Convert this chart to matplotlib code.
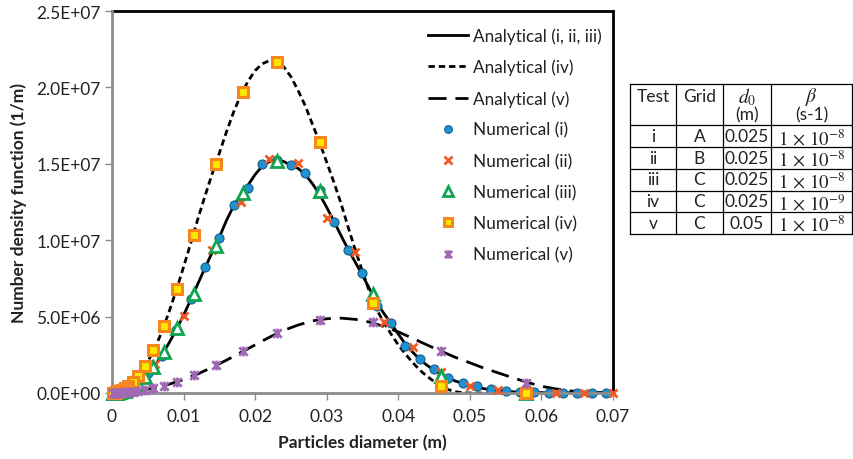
import numpy as np
import matplotlib
matplotlib.use("Agg")
import matplotlib.pyplot as plt
from matplotlib.path import Path
from matplotlib.ticker import FuncFormatter, MultipleLocator

plt.rcParams['font.family'] = ['Lato', 'DejaVu Sans']
plt.rcParams['mathtext.fontset'] = 'stix'

# ---- analytical solutions (number density vs diameter) ----
d_an = [0.000, 0.001, 0.002, 0.003, 0.004, 0.005, 0.006, 0.007, 0.008, 0.009,
        0.010, 0.011, 0.012, 0.013, 0.014, 0.015, 0.016, 0.017, 0.018, 0.019,
        0.020, 0.021, 0.022, 0.023, 0.024, 0.025, 0.026, 0.027, 0.028, 0.029,
        0.030, 0.031, 0.032, 0.033, 0.034, 0.035, 0.036, 0.037, 0.038, 0.039,
        0.040, 0.041, 0.042, 0.043, 0.044, 0.045, 0.046, 0.047, 0.048, 0.049,
        0.050, 0.051, 0.052, 0.053, 0.054, 0.055, 0.056, 0.057, 0.058, 0.059,
        0.060, 0.061, 0.062, 0.063, 0.064, 0.065, 0.066, 0.067, 0.068, 0.069,
        0.070]
an_123 = [0, 3e4, 1.3e5, 3.3e5, 6.8e5, 1.2e6, 1.8e6, 2.5e6, 3.3e6, 4.15e6,
          5.1e6, 6.1e6, 7.15e6, 8.2e6, 9.2e6, 1.02e7, 1.13e7, 1.225e7, 1.3e7, 1.36e7,
          1.43e7, 1.485e7, 1.515e7, 1.525e7, 1.515e7, 1.49e7, 1.47e7, 1.43e7, 1.37e7, 1.30e7,
          1.215e7, 1.125e7, 1.03e7, 9.4e6, 8.55e6, 7.7e6, 6.8e6, 5.9e6, 5.2e6, 4.55e6,
          3.85e6, 3.2e6, 2.68e6, 2.2e6, 1.82e6, 1.5e6, 1.22e6, 9.8e5, 7.8e5, 6.2e5,
          4.8e5, 3.7e5, 2.8e5, 2.1e5, 1.55e5, 1.1e5, 8e4, 5.5e4, 3.8e4, 2.6e4,
          1.7e4, 1.1e4, 7e3, 4e3, 2.5e3, 1.5e3, 1e3, 5e2, 2e2, 1e2,
          0]
an_4 = [0, 1.5e5, 4.5e5, 8.5e5, 1.35e6, 2.05e6, 2.95e6, 4.05e6, 5.35e6, 6.75e6,
        8.25e6, 9.8e6, 1.14e7, 1.29e7, 1.435e7, 1.57e7, 1.71e7, 1.84e7, 1.95e7, 2.04e7,
        2.11e7, 2.155e7, 2.175e7, 2.17e7, 2.135e7, 2.07e7, 1.98e7, 1.88e7, 1.76e7, 1.64e7,
        1.51e7, 1.38e7, 1.24e7, 1.085e7, 9.35e6, 7.95e6, 6.6e6, 5.45e6, 4.6e6, 3.85e6,
        3.15e6, 2.55e6, 2.0e6, 1.5e6, 1.1e6, 7.5e5, 4.5e5, 2.2e5, 8e4, 2e4,
        0, 0, 0, 0, 0, 0, 0, 0, 0, 0,
        0, 0, 0, 0, 0, 0, 0, 0, 0, 0,
        0]
d_an5 = [0.000, 0.002, 0.004, 0.006, 0.008, 0.010, 0.012, 0.014, 0.016, 0.018,
         0.020, 0.022, 0.024, 0.026, 0.028, 0.030, 0.032, 0.034, 0.036, 0.038,
         0.040, 0.042, 0.044, 0.046, 0.048, 0.050, 0.052, 0.054, 0.056, 0.058,
         0.060, 0.062, 0.064, 0.066, 0.068, 0.070]
an_5 = [0, 5e4, 1.6e5, 3.4e5, 5.8e5, 8.8e5, 1.25e6, 1.68e6, 2.15e6, 2.65e6,
        3.15e6, 3.65e6, 4.1e6, 4.45e6, 4.72e6, 4.86e6, 4.9e6, 4.82e6, 4.64e6, 4.35e6,
        4.0e6, 3.58e6, 3.15e6, 2.73e6, 2.33e6, 1.98e6, 1.62e6, 1.31e6, 1.0e6, 7e5,
        4.4e5, 2.7e5, 1.4e5, 6e4, 2e4, 0]

# ---- numerical results ----
# grid A
d_A = [0.001, 0.003, 0.005, 0.007, 0.009, 0.011, 0.013, 0.015, 0.017, 0.019,
       0.021, 0.023, 0.025, 0.027, 0.029, 0.031, 0.033, 0.035, 0.037, 0.039,
       0.041, 0.043, 0.045, 0.047, 0.049, 0.051, 0.053, 0.055, 0.057, 0.059,
       0.061, 0.063, 0.065, 0.067, 0.069]
num_1 = [3e4, 3.5e5, 1.3e6, 2.45e6, 4.1e6, 6.15e6, 8.25e6, 1.014e7, 1.23e7, 1.342e7,
         1.50e7, 1.525e7, 1.49e7, 1.44e7, 1.33e7, 1.12e7, 9.36e6, 7.85e6, 5.7e6, 4.6e6,
         3.1e6, 2.2e6, 1.55e6, 9.8e5, 6.5e5, 4.3e5, 2.6e5, 1.3e5, 7e4, 4e4,
         2e4, 1e4, 5e3, 2e3, 1e3]
# grid B
d_B = [0.002, 0.006, 0.010, 0.014, 0.018, 0.022, 0.026, 0.030, 0.034, 0.038,
       0.042, 0.046, 0.050, 0.054, 0.058, 0.062, 0.066, 0.070]
num_2 = [1.0e5, 1.9e6, 5.04e6, 9.36e6, 1.25e7, 1.531e7, 1.505e7, 1.145e7, 9.23e6, 4.65e6,
         3.0e6, 1.4e6, 4.6e5, 2.0e5, 6e4, 3e4, 1e4, 0]
# grid C
d_C = [0.0578, 0.0459, 0.0365, 0.0290, 0.0230, 0.0183, 0.0145, 0.0115, 0.0091, 0.0072,
       0.0057, 0.0046, 0.0036, 0.0029, 0.0023, 0.0018, 0.0014, 0.0011, 0.0009, 0.0007,
       0.0006, 0.0005, 0.0004, 0.0003, 0.0002]
num_3 = [0, 1.1e6, 6.5e6, 1.32e7, 1.52e7, 1.31e7, 9.6e6, 6.5e6, 4.25e6, 2.68e6,
         1.7e6, 1.05e6, 5.9e5, 3.8e5, 2.4e5, 1.5e5, 1.0e5, 7e4, 4e4, 2e4,
         1.5e4, 1e4, 6e3, 3e3, 1e3]
num_4 = [0, 4.6e5, 5.9e6, 1.643e7, 2.166e7, 1.97e7, 1.5e7, 1.034e7, 6.81e6, 4.38e6,
         2.81e6, 1.77e6, 1.11e6, 7.2e5, 4.6e5, 3.3e5, 2.2e5, 1.5e5, 1.0e5, 7e4,
         5e4, 3e4, 2e4, 1e4, 5e3]
num_5 = [6.5e5, 2.75e6, 4.65e6, 4.78e6, 3.93e6, 2.75e6, 1.83e6, 1.18e6, 7.2e5, 4.6e5,
         3.3e5, 2.0e5, 1.3e5, 9e4, 6e4, 4e4, 3e4, 2e4, 1.5e4, 1e4,
         7e3, 5e3, 3e3, 2e3, 1e3]

# ---- test conditions table ----
tab_header = ["Test", "Grid", "$d_0$", r"$\beta$"]
tab_units = ["", "", "(m)", "(s-1)"]
tab_test = ["i", "ii", "iii", "iv", "v"]
tab_grid = ["A", "B", "C", "C", "C"]
tab_d0 = ["0.025", "0.025", "0.025", "0.025", "0.05"]
tab_beta = [r"$1\,\times\,10^{-8}$", r"$1\,\times\,10^{-8}$", r"$1\,\times\,10^{-8}$",
            r"$1\,\times\,10^{-9}$", r"$1\,\times\,10^{-8}$"]

TXT = '#222222'
FS = 12.5

# asterisk-like marker: an X crossed by a vertical bar
star_marker = Path([(-1, -1), (1, 1), (-1, 1), (1, -1), (0, -1.15), (0, 1.15)],
                   [Path.MOVETO, Path.LINETO, Path.MOVETO, Path.LINETO,
                    Path.MOVETO, Path.LINETO])

W, H = 854, 460
fig = plt.figure(figsize=(W / 100, H / 100), dpi=100)
ax = fig.add_axes([112 / W, 66 / H, 501 / W, 382 / H])

lw = 2.0
ax.plot(d_an, an_123, color='black', lw=lw, label='Analytical (i, ii, iii)', zorder=2)
ax.plot(d_an, an_4, color='black', lw=lw, dashes=(2.3, 1.4), label='Analytical (iv)', zorder=2)
ax.plot(d_an5, an_5, color='black', lw=lw, dashes=(6.5, 3.2), label='Analytical (v)', zorder=2)

ax.plot(d_A, num_1, ls='none', marker='o', ms=6.5, mfc='#1f93d2', mec='#155d8c', mew=0.8,
        label='Numerical (i)', clip_on=False, zorder=3)
ax.plot(d_B, num_2, ls='none', marker='x', ms=6, mec='#f05a24', mew=2.0,
        label='Numerical (ii)', clip_on=False, zorder=4)
ax.plot(d_C, num_3, ls='none', marker='^', ms=8.5, mfc='white', mec='#10a54f', mew=2.0,
        label='Numerical (iii)', clip_on=False, zorder=5)
ax.plot(d_C, num_4, ls='none', marker='s', ms=7, mfc='#ffe600', mec='#f7861f', mew=2.2,
        label='Numerical (iv)', clip_on=False, zorder=6)
ax.plot(d_C, num_5, ls='none', marker=star_marker, ms=7, mec='#9f69b3', mew=2.0,
        label='Numerical (v)', clip_on=False, zorder=7)

ax.set_xlim(0, 0.07)
ax.set_ylim(0, 2.5e7)
ax.xaxis.set_major_locator(MultipleLocator(0.01))
ax.yaxis.set_major_locator(MultipleLocator(5e6))
ax.xaxis.set_major_formatter(FuncFormatter(lambda v, p: f"{v:g}"))
ax.yaxis.set_major_formatter(FuncFormatter(lambda v, p: f"{v:.1E}"))
ax.tick_params(axis='both', direction='out', length=5, width=1, color='#8c8c8c',
               labelsize=FS, labelcolor=TXT)
ax.tick_params(axis='x', pad=6)
ax.tick_params(axis='y', pad=3)

for side in ('top', 'right'):
    ax.spines[side].set_color('black')
    ax.spines[side].set_linewidth(2.0)
for side in ('left', 'bottom'):
    ax.spines[side].set_color('#8c8c8c')
    ax.spines[side].set_linewidth(2.0)
    ax.spines[side].set_zorder(3)

ax.set_xlabel('Particles diameter (m)', fontsize=FS, fontweight='bold', color=TXT,
              labelpad=7)
ax.set_ylabel('Number density function (1/m)', fontsize=FS, fontweight='bold',
              color=TXT, labelpad=7)

leg = ax.legend(loc='upper left', bbox_to_anchor=((428 - 112) / 501, (394 - 28) / 382),
                frameon=False, fontsize=12.3, handlelength=2.35, handletextpad=0.28,
                labelspacing=0.88, borderpad=0, borderaxespad=0, markerscale=0.85)
for t in leg.get_texts():
    t.set_color(TXT)

# table of test conditions
tx = fig.add_axes([0, 0, 1, 1], facecolor='none')
tx.set_xlim(0, W)
tx.set_ylim(H, 0)
tx.axis('off')
cols = [630, 676, 723, 771, 852]
rows = [85, 126, 148, 169.5, 191.5, 213, 234.5]
for x in cols:
    tx.plot([x, x], [rows[0], rows[-1]], color='black', lw=0.9)
for y in rows:
    tx.plot([cols[0], cols[-1]], [y, y], color='black', lw=0.9)
centers = [(cols[i] + cols[i + 1]) / 2 for i in range(4)]
for i, (h, u) in enumerate(zip(tab_header, tab_units)):
    tx.text(centers[i], 97, h, ha='center', va='center',
            fontsize=FS + 1.5 if i >= 2 else FS, color=TXT)
    if u:
        tx.text(centers[i], 115, u, ha='center', va='center', fontsize=FS, color=TXT)
for r, vals in enumerate(zip(tab_test, tab_grid, tab_d0, tab_beta)):
    yc = (rows[r + 1] + rows[r + 2]) / 2
    for i, v in enumerate(vals):
        tx.text(centers[i], yc + (1 if i == 3 else 0), v, ha='center', va='center',
                fontsize=FS + 1 if i == 3 else FS, color=TXT)

fig.savefig('out.png', dpi=100)
